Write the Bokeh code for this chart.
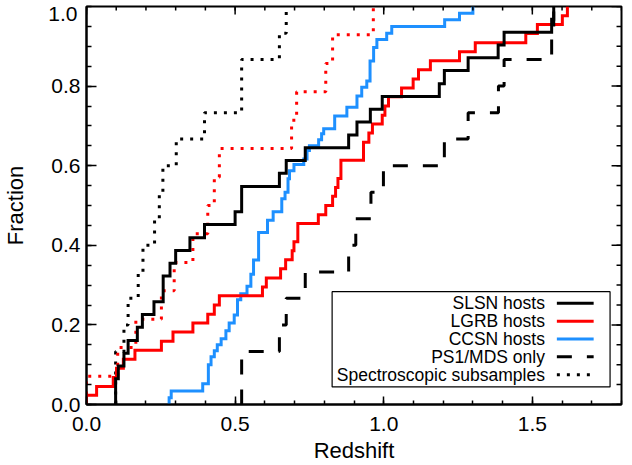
from bokeh.plotting import figure
from bokeh.models import FixedTicker, PrintfTickFormatter, Range1d, LinearAxis
from bokeh.embed import file_html
from bokeh.resources import INLINE
from bokeh.core.properties import value

# ---- data (redshift of each step, cumulative fraction after the step) ----
slsn_z = [0.098, 0.107, 0.126, 0.140, 0.171, 0.188, 0.227, 0.258, 0.281, 0.300, 0.348, 0.397, 0.500,
          0.522, 0.649, 0.672, 0.736, 0.882, 0.910, 0.955, 0.995, 1.187, 1.204, 1.284, 1.385, 1.405,
          1.565, 1.572]
slsn_f = [0.065, 0.097, 0.129, 0.161, 0.194, 0.226, 0.258, 0.323, 0.355, 0.387, 0.419, 0.452, 0.484,
          0.548, 0.581, 0.613, 0.645, 0.677, 0.710, 0.742, 0.774, 0.806, 0.839, 0.871, 0.903, 0.935,
          0.968, 1.000]

lgrb_z = [0.000, 0.034, 0.090, 0.101, 0.124, 0.163, 0.252, 0.291, 0.358, 0.408, 0.430, 0.447, 0.592,
          0.605, 0.653, 0.670, 0.692, 0.698, 0.711, 0.780, 0.805, 0.828, 0.838, 0.846, 0.856, 0.932,
          0.950, 0.962, 0.995, 1.004, 1.016, 1.060, 1.099, 1.117, 1.157, 1.255, 1.308, 1.478, 1.517,
          1.601, 1.618]
lgrb_f = [0.023, 0.045, 0.068, 0.091, 0.114, 0.136, 0.159, 0.182, 0.205, 0.227, 0.250, 0.273, 0.295,
          0.318, 0.341, 0.364, 0.386, 0.409, 0.455, 0.477, 0.500, 0.523, 0.545, 0.568, 0.614, 0.659,
          0.682, 0.705, 0.727, 0.750, 0.773, 0.795, 0.818, 0.841, 0.864, 0.886, 0.909, 0.932, 0.955,
          0.977, 1.000]

ccsn_z = [0.278, 0.285, 0.391, 0.410, 0.419, 0.430, 0.440, 0.453, 0.469, 0.480, 0.497, 0.508, 0.519,
          0.540, 0.553, 0.562, 0.579, 0.609, 0.628, 0.657, 0.668, 0.678, 0.683, 0.698, 0.731, 0.742,
          0.750, 0.781, 0.791, 0.798, 0.835, 0.876, 0.910, 0.926, 0.943, 0.954, 0.966, 0.977, 1.010,
          1.027, 1.205, 1.255, 1.300]
ccsn_f = [0.017, 0.034, 0.052, 0.100, 0.120, 0.135, 0.150, 0.165, 0.185, 0.205, 0.225, 0.263, 0.278,
          0.297, 0.327, 0.363, 0.432, 0.463, 0.484, 0.517, 0.533, 0.567, 0.587, 0.603, 0.617, 0.638,
          0.650, 0.665, 0.680, 0.693, 0.725, 0.747, 0.775, 0.797, 0.813, 0.863, 0.897, 0.917, 0.933,
          0.950, 0.967, 0.983, 1.000]

ps1_z = [0.522, 0.649, 0.672, 0.736, 0.882, 0.906, 0.957, 0.999, 1.204, 1.284, 1.386, 1.405, 1.565, 1.572]
ps1_f = [0.133, 0.200, 0.267, 0.333, 0.400, 0.467, 0.533, 0.600, 0.667, 0.733, 0.800, 0.867, 0.933, 1.000]

slsn_spec_z = [0.098, 0.126, 0.140, 0.174, 0.190, 0.229, 0.245, 0.257, 0.302, 0.397, 0.522, 0.649, 0.672]
slsn_spec_f = [0.133, 0.200, 0.267, 0.333, 0.400, 0.467, 0.533, 0.600, 0.667, 0.733, 0.867, 0.933, 1.000]

lgrb_spec_z = [0.000, 0.105, 0.166, 0.252, 0.295, 0.358, 0.408, 0.430, 0.447, 0.690, 0.707, 0.805, 0.828, 0.965]
lgrb_spec_f = [0.071, 0.143, 0.214, 0.286, 0.357, 0.429, 0.500, 0.571, 0.643, 0.714, 0.786, 0.857, 0.929, 1.000]

legend_labels = ["SLSN hosts", "LGRB hosts", "CCSN hosts", "PS1/MDS only", "Spectroscopic subsamples"]

x_major_ticks = [0.0, 0.5, 1.0, 1.5]
x_minor_ticks = [round(0.1 * k, 2) for k in range(19)]
y_major_ticks = [0.0, 0.2, 0.4, 0.6, 0.8, 1.0]
y_minor_ticks = [round(0.05 * k, 2) for k in range(21)]

BLUE = "#1E90FF"
FONT = "Liberation Sans"

# layout (pixels): frame spans x 83..621, y 6..407 of the canvas
W, H = 632, 465
ML, MR, MT, MB = 83, 11, 6, 58
FW, FH = W - ML - MR, H - MT - MB
XMAX, YMAX = 1.8, 1.0
xpx = XMAX / FW   # data units per pixel
ypx = YMAX / FH


def px_x(px):
    return (px - ML) * xpx


def px_y(py):
    return YMAX - (py - MT) * ypx


def step_path(z, f):
    xs, ys = [z[0]], [0.0]
    prev = 0.0
    for zi, fi in zip(z, f):
        xs += [zi, zi]
        ys += [prev, fi]
        prev = fi
    return xs, ys


p = figure(width=W, height=H, x_range=Range1d(0, XMAX), y_range=Range1d(0, YMAX),
           output_backend="svg", toolbar_location=None,
           min_border_left=ML, min_border_right=MR, min_border_top=MT, min_border_bottom=MB,
           x_axis_label="Redshift")
p.grid.visible = False
p.outline_line_color = "black"
p.outline_line_width = 2
p.background_fill_color = "white"
p.border_fill_color = "white"

# ---- series ----
line_kw = dict(line_width=3, line_join="miter")
xs, ys = step_path(slsn_spec_z, slsn_spec_f)
p.line(xs, ys, line_color="black", line_dash="3 7", line_width=3)
xs, ys = step_path(lgrb_spec_z, lgrb_spec_f)
p.line(xs, ys, line_color="red", line_dash="3 7", line_width=3)
xs, ys = step_path(ccsn_z, ccsn_f)
p.line(xs, ys, line_color=BLUE, **line_kw)
xs, ys = step_path(lgrb_z, lgrb_f)
p.line(xs, ys, line_color="red", **line_kw)
xs, ys = step_path(slsn_z, slsn_f)
p.line(xs, ys, line_color="black", **line_kw)
xs, ys = step_path(ps1_z, ps1_f)
p.line(xs, ys, line_color="black", line_dash="15 15", line_width=3)

# ---- legend (right-aligned text, samples on the right) ----
p.quad(left=[px_x(330)], right=[px_x(609.5)], bottom=[px_y(389.3)], top=[px_y(293.3)],
       fill_color="white", line_color="black", line_width=1.2)
row_y = [px_y(305 + 18 * i) for i in range(5)]
p.text(x=[px_x(544)] * 5, y=row_y, text=legend_labels, text_align="right", text_baseline="middle",
       text_font=value(FONT), text_font_size="17.5px", text_color="black")
styles = [dict(line_color="black"), dict(line_color="red"), dict(line_color=BLUE),
          dict(line_color="black", line_dash="15 15"), dict(line_color="black", line_dash="3 7")]
for yy, st in zip(row_y, styles):
    p.line([px_x(556), px_x(593)], [yy, yy], line_width=3, **st)


# ---- axes ----
def style_axis(ax, major_in, minor_in):
    ax.axis_line_color = "black"
    ax.axis_line_width = 2
    ax.major_tick_line_color = "black"
    ax.minor_tick_line_color = "black"
    ax.major_tick_line_width = 1.5
    ax.minor_tick_line_width = 1.5
    ax.major_tick_in = major_in
    ax.major_tick_out = 0
    ax.minor_tick_in = minor_in
    ax.minor_tick_out = 0
    ax.major_label_text_font = FONT
    ax.major_label_text_font_size = "21px"
    ax.major_label_text_color = "black"
    ax.axis_label_text_font = FONT
    ax.axis_label_text_font_size = "22px"
    ax.axis_label_text_font_style = "normal"
    ax.axis_label_text_color = "black"


style_axis(p.xaxis[0], 8, 4)
style_axis(p.yaxis[0], 10, 5)
p.xaxis.ticker = FixedTicker(ticks=x_major_ticks, minor_ticks=x_minor_ticks)
p.yaxis.ticker = FixedTicker(ticks=y_major_ticks[:-1], minor_ticks=y_minor_ticks)
p.xaxis.formatter = PrintfTickFormatter(format="%.1f")
p.yaxis.formatter = PrintfTickFormatter(format="%.1f")
p.xaxis.major_label_standoff = 12
p.xaxis.axis_label_standoff = 4
p.yaxis.major_label_standoff = 6

# outer left axis: carries the top "1.0" label (nudged inside the canvas) and the "Fraction" title
LAB_SHIFT = 8  # px below the top edge
p.extra_y_ranges = {"lab": Range1d(LAB_SHIFT * ypx, YMAX + LAB_SHIFT * ypx)}
outer = LinearAxis(y_range_name="lab", ticker=FixedTicker(ticks=y_major_ticks[-1:], minor_ticks=[]),
                   formatter=PrintfTickFormatter(format="%.1f"), axis_label="Fraction")
style_axis(outer, 0, 0)
outer.axis_line_color = None
outer.major_tick_line_color = None
outer.minor_tick_line_color = None
outer.major_label_standoff = -29
outer.axis_label_standoff = 17
p.add_layout(outer, "left")

# mirrored ticks on the top and right edges
p.segment(x0=x_major_ticks, x1=x_major_ticks, y0=[YMAX] * 4, y1=[YMAX - 8 * ypx] * 4,
          line_color="black", line_width=1.5)
p.segment(x0=x_minor_ticks, x1=x_minor_ticks, y0=[YMAX] * len(x_minor_ticks),
          y1=[YMAX - 4 * ypx] * len(x_minor_ticks), line_color="black", line_width=1.5)
p.segment(x0=[XMAX] * 6, x1=[XMAX - 10 * xpx] * 6, y0=y_major_ticks, y1=y_major_ticks,
          line_color="black", line_width=1.5)
p.segment(x0=[XMAX] * len(y_minor_ticks), x1=[XMAX - 5 * xpx] * len(y_minor_ticks),
          y0=y_minor_ticks, y1=y_minor_ticks, line_color="black", line_width=1.5)

open("out.html", "w").write(file_html(p, INLINE))
